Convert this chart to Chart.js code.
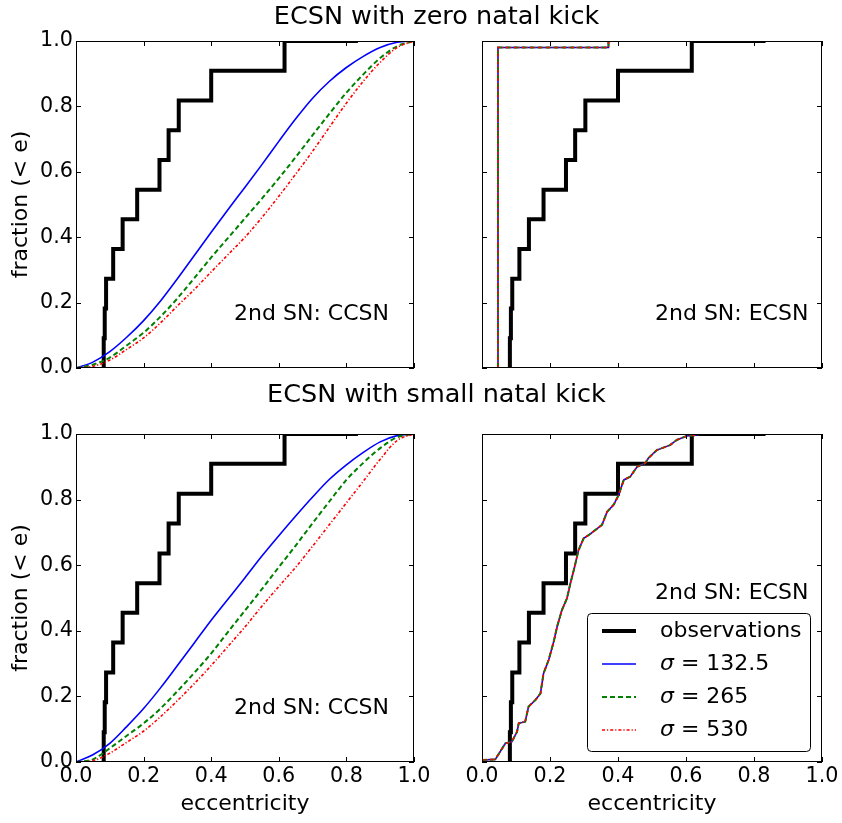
<!DOCTYPE html>
<html>
<head>
<meta charset="utf-8">
<script src="https://cdn.jsdelivr.net/npm/chart.js@4.4.1/dist/chart.umd.min.js"></script>
<style>
  html, body { margin: 0; padding: 0; background: #fff; }
  #wrap { position: relative; width: 842px; height: 823px; }
  #wrap canvas { position: absolute; left: 0; top: 0; }
</style>
</head>
<body>
<div id="wrap">
  <canvas id="zeroCcsn" width="842" height="823"></canvas>
  <canvas id="zeroEcsn" width="842" height="823"></canvas>
  <canvas id="smallCcsn" width="842" height="823"></canvas>
  <canvas id="smallEcsn" width="842" height="823"></canvas>
</div>
<script>
// Data ==========================
// eccentricity grid for the smooth CCSN curves
const eGrid = [0, 0.05, 0.1, 0.15, 0.2, 0.25, 0.3, 0.35, 0.4, 0.45, 0.5,
  0.55, 0.6, 0.65, 0.7, 0.75, 0.8, 0.85, 0.9, 0.95, 1.0];

// observed systems, cumulative fraction (step curve)
const obsEcc = [0.082, 0.082, 0.085, 0.089, 0.110, 0.138, 0.181, 0.247, 0.274, 0.304, 0.400, 0.617, 0.834];
const obsFrac = [0, 0.091, 0.182, 0.273, 0.364, 0.455, 0.545, 0.636, 0.727, 0.818, 0.909, 1.0, 1.0];

const sigmas = [132.5, 265, 530];

// ECSN with zero natal kick, 2nd SN: CCSN
const zeroCcsn132 = [0, 0.018, 0.050, 0.094, 0.145, 0.205, 0.273, 0.344, 0.415, 0.485, 0.553,
  0.622, 0.693, 0.762, 0.825, 0.877, 0.919, 0.953, 0.980, 0.996, 1.0];
const zeroCcsn265 = [0, 0.010, 0.032, 0.069, 0.108, 0.157, 0.213, 0.275, 0.338, 0.398, 0.458,
  0.518, 0.580, 0.645, 0.712, 0.778, 0.842, 0.898, 0.948, 0.984, 1.0];
const zeroCcsn530 = [0, 0.005, 0.024, 0.057, 0.092, 0.138, 0.190, 0.240, 0.294, 0.347, 0.400,
  0.460, 0.525, 0.593, 0.663, 0.737, 0.810, 0.877, 0.935, 0.980, 1.0];

// ECSN with zero natal kick, 2nd SN: ECSN (all three sigmas coincide)
const zeroEcsnEcc = [0.047, 0.047, 0.372, 0.372];
const zeroEcsnFrac = [0, 0.98, 0.98, 1.0];

// ECSN with small natal kick, 2nd SN: CCSN
const smallCcsn132 = [0, 0.022, 0.057, 0.108, 0.163, 0.226, 0.294, 0.363, 0.432, 0.497, 0.562,
  0.628, 0.690, 0.750, 0.808, 0.862, 0.906, 0.944, 0.976, 0.995, 1.0];
const smallCcsn265 = [0, 0.008, 0.042, 0.080, 0.118, 0.163, 0.216, 0.272, 0.331, 0.397, 0.462,
  0.527, 0.594, 0.660, 0.728, 0.795, 0.860, 0.912, 0.957, 0.990, 1.0];
const smallCcsn530 = [0, 0.004, 0.027, 0.060, 0.094, 0.138, 0.187, 0.239, 0.294, 0.353, 0.412,
  0.475, 0.535, 0.594, 0.658, 0.724, 0.790, 0.856, 0.923, 0.980, 1.0];

// ECSN with small natal kick, 2nd SN: ECSN (sigmas nearly coincide)
const smallEcsnEcc = [0, 0.039, 0.047, 0.069, 0.088, 0.103, 0.108, 0.127, 0.137, 0.157,
  0.172, 0.181, 0.196, 0.211, 0.221, 0.235, 0.250, 0.260, 0.270, 0.284,
  0.299, 0.314, 0.333, 0.353, 0.368, 0.387, 0.402, 0.417, 0.436, 0.456,
  0.480, 0.489, 0.514, 0.553, 0.573, 0.602, 0.632, 0.640];
const smallEcsnFrac = [0.006, 0.008, 0.021, 0.057, 0.062, 0.092, 0.118, 0.123, 0.169, 0.189,
  0.209, 0.270, 0.311, 0.367, 0.413, 0.463, 0.499, 0.545, 0.585, 0.646,
  0.682, 0.692, 0.707, 0.723, 0.763, 0.784, 0.814, 0.860, 0.870, 0.900,
  0.911, 0.926, 0.951, 0.966, 0.982, 0.994, 0.997, 1.0];

// Styles ==========================
const W = 842, H = 823;
const FONT = '"DejaVu Sans"';
const simStyle = [
  { color: '#0000ff', width: 1.6, dash: [] },
  { color: '#008000', width: 2, dash: [5, 3] },
  { color: '#ff0000', width: 1.6, dash: [3, 2, 1.2, 2] }
];

Chart.defaults.font.family = 'DejaVu Sans';
Chart.defaults.color = '#000';

// Functions
const toPoints = (xs, ys) => xs.map((x, i) => ({ x, y: ys[i] }));
const noClip = { left: 0, top: 0, right: 0, bottom: 0 };

const obsDataset = () => ({
  label: 'observations',
  data: toPoints(obsEcc, obsFrac),
  borderColor: '#000',
  borderWidth: 4,
  borderJoinStyle: 'miter',
  stepped: true,
  pointRadius: 0,
  clip: noClip,
  order: 3
});

const simDataset = (i, xs, ys, smooth) => ({
  label: 'σ = ' + sigmas[i],
  data: toPoints(xs, ys),
  borderColor: simStyle[i].color,
  borderWidth: simStyle[i].width,
  borderDash: simStyle[i].dash,
  cubicInterpolationMode: smooth ? 'monotone' : 'default',
  tension: 0,
  pointRadius: 0,
  clip: noClip,
  order: 2 - i
});

// plugins
const frameTicks = {
  id: 'frameTicks',
  afterDatasetsDraw(chart) {
    const { ctx, chartArea: a, scales: { x, y } } = chart;
    const len = 5;
    ctx.save();
    ctx.strokeStyle = '#000';
    ctx.lineWidth = 1;
    ctx.beginPath();
    x.ticks.forEach(t => {
      const px = Math.round(x.getPixelForValue(t.value)) + 0.5;
      ctx.moveTo(px, a.bottom); ctx.lineTo(px, a.bottom - len);
      ctx.moveTo(px, a.top); ctx.lineTo(px, a.top + len);
    });
    y.ticks.forEach(t => {
      const py = Math.round(y.getPixelForValue(t.value)) + 0.5;
      ctx.moveTo(a.left, py); ctx.lineTo(a.left + len, py);
      ctx.moveTo(a.right, py); ctx.lineTo(a.right - len, py);
    });
    ctx.stroke();
    ctx.strokeRect(a.left + 0.5, a.top + 0.5, a.width - 1, a.height - 1);
    ctx.restore();
  }
};

const panelNote = {
  id: 'panelNote',
  afterDatasetsDraw(chart, args, opts) {
    const { ctx, scales: { x, y } } = chart;
    ctx.save();
    ctx.font = '22px ' + FONT;
    ctx.fillStyle = '#000';
    ctx.textAlign = 'right';
    ctx.textBaseline = 'alphabetic';
    ctx.fillText(opts.text, x.getPixelForValue(opts.at[0]), y.getPixelForValue(opts.at[1]));
    ctx.restore();
  }
};

const rowTitle = {
  id: 'rowTitle',
  afterDraw(chart, args, opts) {
    if (!opts.text) return;
    const { ctx } = chart;
    ctx.save();
    ctx.font = '25.5px ' + FONT;
    ctx.fillStyle = '#000';
    ctx.textAlign = 'center';
    ctx.textBaseline = 'alphabetic';
    ctx.fillText(opts.text, opts.x, opts.y);
    ctx.restore();
  }
};

const simLegend = {
  id: 'simLegend',
  afterDraw(chart, args, opts) {
    if (!opts.show) return;
    const { ctx, chartArea: a } = chart;
    const w = 223, h = 138;
    const bx = a.right - 12 - w, by = a.bottom - 11 - h;
    ctx.save();
    ctx.beginPath();
    ctx.roundRect(bx + 0.5, by + 0.5, w, h, 4);
    ctx.fillStyle = '#fff';
    ctx.fill();
    ctx.strokeStyle = '#000';
    ctx.lineWidth = 1;
    ctx.stroke();
    chart.data.datasets.forEach((ds, i) => {
      const ry = by + 18 + i * 33;
      ctx.strokeStyle = ds.borderColor;
      ctx.lineWidth = ds.borderWidth;
      ctx.setLineDash(ds.borderDash || []);
      ctx.beginPath();
      ctx.moveTo(bx + 15, ry);
      ctx.lineTo(bx + 49, ry);
      ctx.stroke();
      ctx.setLineDash([]);
      ctx.fillStyle = '#000';
      ctx.textBaseline = 'middle';
      ctx.textAlign = 'left';
      let tx = bx + 73;
      let text = ds.label;
      if (text.startsWith('σ')) {
        ctx.font = 'italic 22px ' + FONT;
        ctx.fillText('σ', tx, ry);
        tx += ctx.measureText('σ').width;
        text = text.slice(1);
      }
      ctx.font = '22px ' + FONT;
      ctx.fillText(text, tx, ry);
    });
    ctx.restore();
  }
};

const makePanel = (id, box, cfg) => {
  const [left, top, right, bottom] = box;
  return new Chart(document.getElementById(id), {
    type: 'line',
    data: { datasets: cfg.datasets },
    options: {
      responsive: false,
      animation: false,
      events: [],
      layout: { padding: { left: 0, top: top, right: W - right, bottom: 0 } },
      scales: {
        x: {
          type: 'linear',
          min: 0,
          max: 1,
          grid: { display: false, drawTicks: false },
          border: { display: false },
          ticks: {
            display: cfg.xLabels,
            stepSize: 0.2,
            padding: 2,
            maxRotation: 0,
            autoSkip: false,
            font: { size: 20.7 },
            callback: v => v.toFixed(1)
          },
          title: {
            display: cfg.xLabels,
            text: 'eccentricity',
            font: { size: 22 },
            padding: { top: 0, bottom: 6 }
          },
          afterFit: s => { s.height = H - bottom; }
        },
        y: {
          type: 'linear',
          min: 0,
          max: 1,
          grid: { display: false, drawTicks: false },
          border: { display: false },
          ticks: {
            display: cfg.yLabels,
            stepSize: 0.2,
            padding: 3,
            font: { size: 20.7 },
            callback: v => v.toFixed(1)
          },
          title: {
            display: cfg.yLabels,
            text: 'fraction (< e)',
            font: { size: 22 },
            padding: { top: 8, bottom: 0 }
          },
          afterFit: s => { s.width = left; }
        }
      },
      plugins: {
        legend: { display: false },
        tooltip: { enabled: false },
        panelNote: cfg.note,
        rowTitle: cfg.title || {},
        simLegend: { show: !!cfg.legend }
      }
    },
    plugins: [frameTicks, panelNote, rowTitle, simLegend]
  });
};

// Charts ==========================
window.addEventListener('DOMContentLoaded', () => {
  makePanel('zeroCcsn', [76, 41, 414, 368], {
    xLabels: false,
    yLabels: true,
    title: { text: 'ECSN with zero natal kick', x: 436.5, y: 23.5 },
    note: { text: '2nd SN: CCSN', at: [0.926, 0.147] },
    datasets: [
      obsDataset(),
      simDataset(0, eGrid, zeroCcsn132, true),
      simDataset(1, eGrid, zeroCcsn265, true),
      simDataset(2, eGrid, zeroCcsn530, true)
    ]
  });

  makePanel('zeroEcsn', [482, 41, 822, 368], {
    xLabels: false,
    yLabels: false,
    note: { text: '2nd SN: ECSN', at: [0.96, 0.147] },
    datasets: [
      obsDataset(),
      simDataset(0, zeroEcsnEcc, zeroEcsnFrac, false),
      simDataset(1, zeroEcsnEcc, zeroEcsnFrac, false),
      simDataset(2, zeroEcsnEcc, zeroEcsnFrac, false)
    ]
  });

  makePanel('smallCcsn', [76, 434, 414, 762], {
    xLabels: true,
    yLabels: true,
    title: { text: 'ECSN with small natal kick', x: 436.5, y: 401.5 },
    note: { text: '2nd SN: CCSN', at: [0.926, 0.147] },
    datasets: [
      obsDataset(),
      simDataset(0, eGrid, smallCcsn132, true),
      simDataset(1, eGrid, smallCcsn265, true),
      simDataset(2, eGrid, smallCcsn530, true)
    ]
  });

  makePanel('smallEcsn', [482, 434, 822, 762], {
    xLabels: true,
    yLabels: false,
    legend: true,
    note: { text: '2nd SN: ECSN', at: [0.96, 0.497] },
    datasets: [
      obsDataset(),
      simDataset(0, smallEcsnEcc, smallEcsnFrac, false),
      simDataset(1, smallEcsnEcc, smallEcsnFrac, false),
      simDataset(2, smallEcsnEcc, smallEcsnFrac, false)
    ]
  });
});
</script>
</body>
</html>
